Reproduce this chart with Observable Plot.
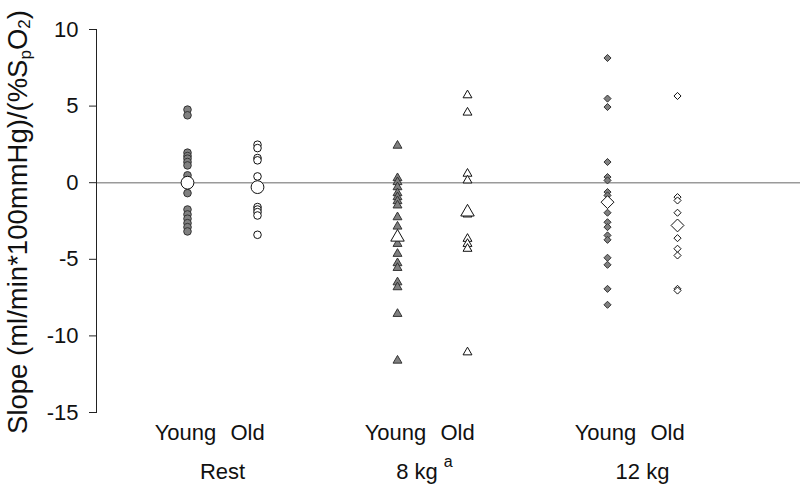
<!DOCTYPE html>
<html>
<head>
<meta charset="utf-8">
<script src="https://cdn.jsdelivr.net/npm/d3@7"></script>
<script src="https://cdn.jsdelivr.net/npm/@observablehq/plot@0.6"></script>
<style>
  html, body { margin: 0; padding: 0; background: #fff; }
</style>
</head>
<body>
<div id="chart"></div>
<script>
// ---- data ----
const groups = ["Rest", "8 kg", "12 kg"];
const groupNotes = ["", "a", ""];
const subgroups = ["Young", "Old"];
const yTicks = [10, 5, 0, -5, -10, -15];

const restYoung = [4.77, 4.40, 1.96, 1.74, 1.57, 1.35, 1.13, 0.48, -0.68, -1.75, -2.07, -2.35, -2.64, -2.90, -3.18];
const restOld   = [2.48, 2.26, 1.61, 1.46, 0.41, -1.59, -1.75, -1.92, -2.14, -3.40];
const kg8Young  = [2.42, 0.30, 0.04, -0.29, -0.68, -0.94, -1.20, -1.48, -2.25, -2.86, -3.99, -4.64, -5.25, -5.56, -6.50, -6.82, -8.56, -11.61];
const kg8Old    = [5.71, 4.58, 0.59, 0.15, -2.07, -3.66, -3.99, -4.31, -11.07];
const kg12Young = [8.14, 5.49, 4.94, 1.35, 0.37, 0.15, -0.61, -0.83, -1.96, -2.58, -2.90, -3.44, -3.73, -4.90, -5.36, -6.93, -7.97];
const kg12Old   = [5.66, -0.94, -1.16, -1.96, -3.62, -4.31, -4.75, -6.93, -7.04];

const meanYoung = [0.00, -3.56, -1.27];
const meanOld   = [-0.29, -1.92, -2.79];

// ---- tables built from the arrays ----
const young = [restYoung, kg8Young, kg12Young];
const old = [restOld, kg8Old, kg12Old];
const slot = (gi, si) => gi * 3 + si;   // two slots per group, one empty slot between groups

const symbols = ["circle", "triangle", "diamond2"];
const smallR = [3.8, 3.3, 3.2];
const bigR = [6.4, 5.0, 5.8];

const marks = [];
marks.push(Plot.ruleY([0], {stroke: "#9a9a9a", strokeWidth: 1.5}));
marks.push(Plot.frame({anchor: "left", stroke: "#222"}));
marks.push(Plot.axisY({
  ticks: yTicks, tickSize: 7, tickPadding: 11, fontSize: 22,
  tickFormat: d => String(d), label: null, stroke: "#222"
}));

groups.forEach((g, gi) => {
  const yRows = young[gi].map(v => ({pos: slot(gi, 0), value: v}));
  const oRows = old[gi].map(v => ({pos: slot(gi, 1), value: v}));
  const mRows = [
    {pos: slot(gi, 0), value: meanYoung[gi]},
    {pos: slot(gi, 1), value: meanOld[gi]}
  ];
  marks.push(Plot.dot(yRows, {x: "pos", y: "value", symbol: symbols[gi], r: smallR[gi],
    fill: "#808080", stroke: "#333", strokeWidth: 1}));
  marks.push(Plot.dot(oRows, {x: "pos", y: "value", symbol: symbols[gi], r: smallR[gi],
    fill: "#fff", stroke: "#111", strokeWidth: 1}));
  marks.push(Plot.dot(mRows, {x: "pos", y: "value", symbol: symbols[gi], r: bigR[gi],
    fill: "#fff", stroke: "#111", strokeWidth: 1}));
});

const youngLabels = groups.map((g, gi) => ({pos: slot(gi, 0), label: subgroups[0]}));
const oldLabels = groups.map((g, gi) => ({pos: slot(gi, 1), label: subgroups[1]}));
const groupLabels = groups.map((g, gi) => ({pos: slot(gi, 0.5), label: g, note: groupNotes[gi]}));

marks.push(Plot.text(youngLabels, {x: "pos", text: "label", frameAnchor: "bottom", dy: 27, dx: -2, fontSize: 22, fill: "#111"}));
marks.push(Plot.text(oldLabels, {x: "pos", text: "label", frameAnchor: "bottom", dy: 27, dx: -10, fontSize: 22, fill: "#111"}));
marks.push(Plot.text(groupLabels, {x: "pos", text: "label", frameAnchor: "bottom", dy: 66, fontSize: 22, fill: "#111"}));

const chart = Plot.plot({
  width: 800,
  height: 503,
  marginLeft: 96,
  marginRight: 0,
  marginTop: 29,
  marginBottom: 91,
  style: {fontFamily: "'Liberation Sans', Arial, Helvetica, sans-serif", background: "#fff", color: "#111"},
  x: {domain: [-1.3, 8.757], axis: null},
  y: {domain: [-15, 10], axis: null},
  marks
});

// superscript notes on group labels
const svg = d3.select(chart);
svg.selectAll("text").each(function() {
  const gi = groups.indexOf(this.textContent);
  if (gi >= 0 && groupNotes[gi]) {
    const t = d3.select(this);
    t.attr("dx", -8);
    t.append("tspan").attr("dx", 6).attr("dy", -12).attr("font-size", 16).text(groupNotes[gi]);
  }
});

// y-axis title with subscripts
const yt = svg.append("text")
  .attr("transform", "translate(27,222) rotate(-90)")
  .attr("text-anchor", "middle")
  .attr("font-size", 27.5)
  .attr("fill", "#111");
yt.append("tspan").text("Slope (ml/min*100mmHg)/(%S");
yt.append("tspan").attr("font-size", 17).attr("dy", 4).text("p");
yt.append("tspan").attr("dy", -4).text("O");
yt.append("tspan").attr("font-size", 17).attr("dy", 3).text("2");
yt.append("tspan").attr("dy", -3).text(")");

document.getElementById("chart").appendChild(chart);
</script>
</body>
</html>
